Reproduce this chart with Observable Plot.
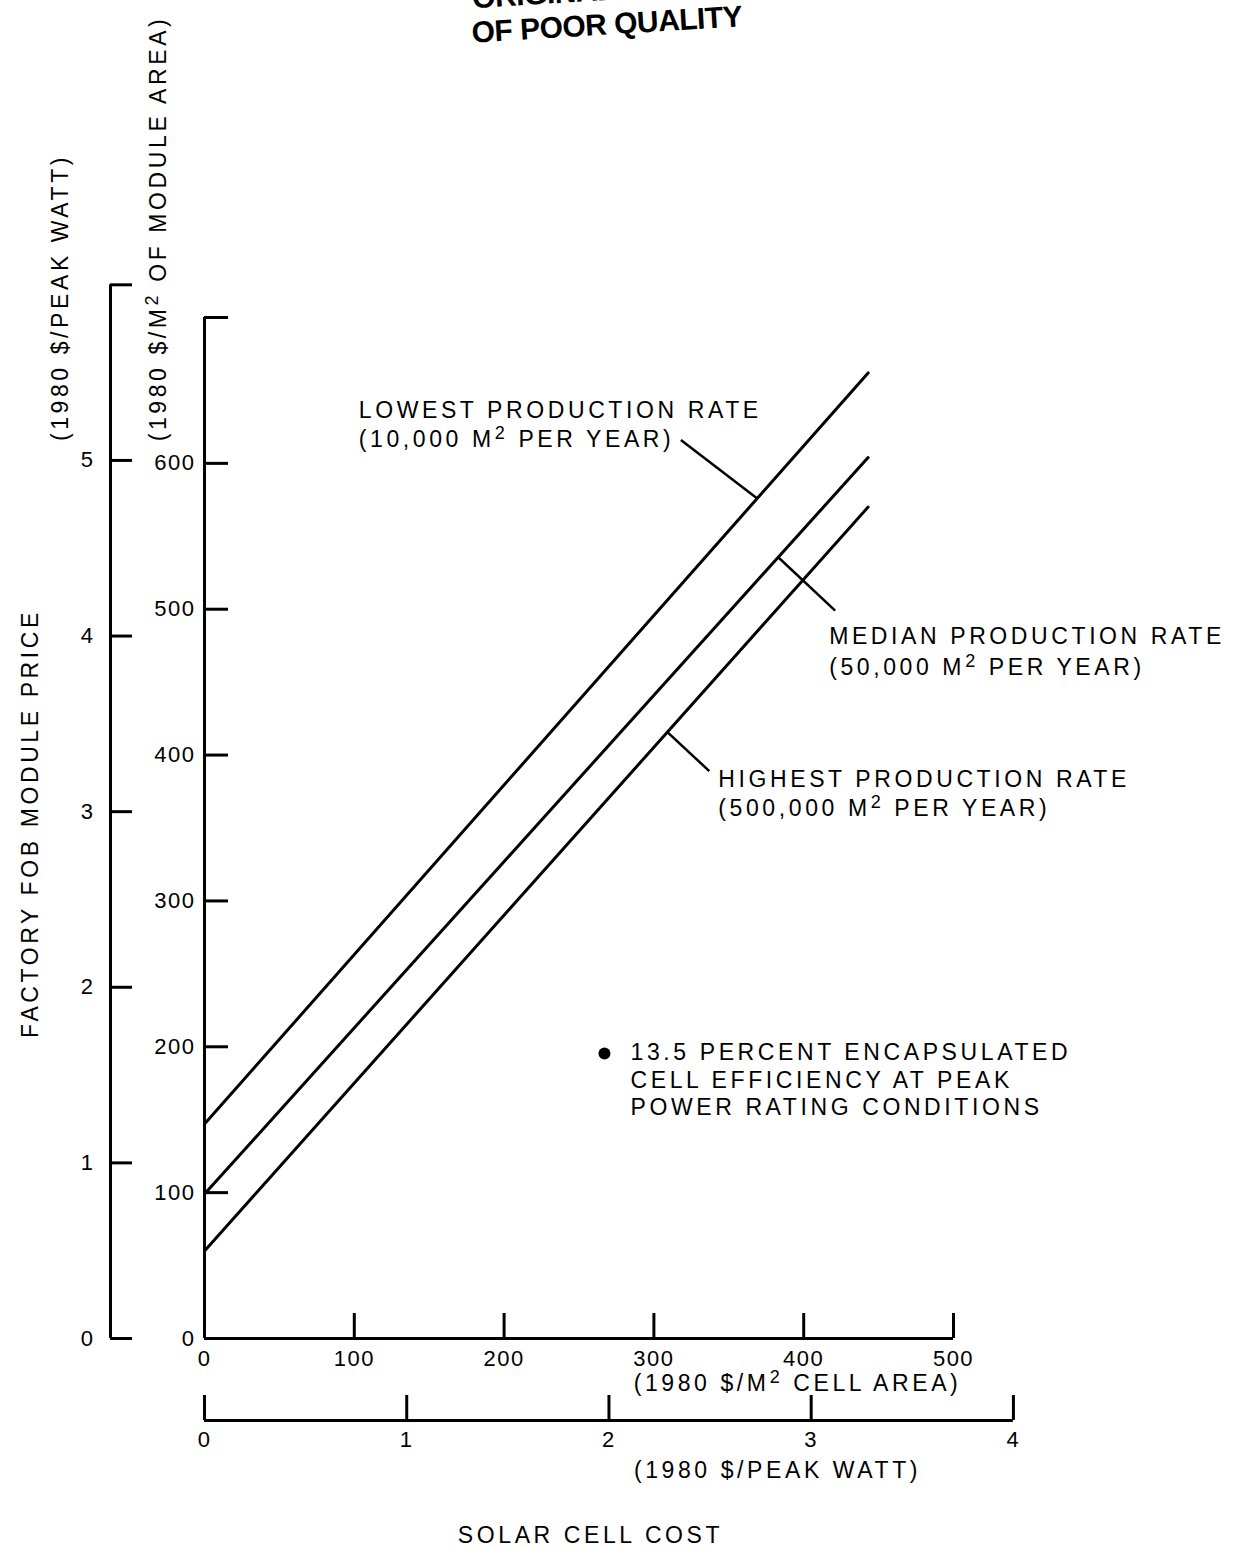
<!DOCTYPE html>
<html>
<head>
<meta charset="utf-8">
<script src="https://cdn.jsdelivr.net/npm/d3@7"></script>
<script src="https://cdn.jsdelivr.net/npm/@observablehq/plot@0.6"></script>
<style>
  html, body { margin: 0; padding: 0; background: #fff; }
  #chart svg text { letter-spacing: 3.6px; }
  #chart svg g[font-size="22"] text { letter-spacing: 1.5px; }
  #chart svg g[font-weight="bold"] text { letter-spacing: -0.5px; }
</style>
</head>
<body>
<div id="chart"></div>
<script>
// ---------------- data ----------------
const seriesNames = ["lowest", "median", "highest"];
const cellCostArea = [0, 443];            // solar cell cost, 1980 $/m² cell area
const lowestPrice  = [147, 662];          // module price, 1980 $/m² module area
const medianPrice  = [99, 604];
const highestPrice = [60, 570];

const cellAreaTicks   = [0, 100, 200, 300, 400, 500];
const cellWattTicks   = [0, 1, 2, 3, 4];
const moduleAreaTicks = [0, 100, 200, 300, 400, 500, 600, 700];
const moduleAreaLabels = [0, 100, 200, 300, 400, 500, 600];
const moduleWattTicks = [0, 1, 2, 3, 4, 5, 6];
const moduleWattLabels = [0, 1, 2, 3, 4, 5];

const cellWattToArea = 135;     // 13.5 % efficiency -> 135 W/m²
const moduleWattToArea = 120.4; // scale ratio of the two module-price axes

const seriesLabels = {
  lowest:  ["LOWEST PRODUCTION RATE", "(10,000 M² PER YEAR)"],
  median:  ["MEDIAN PRODUCTION RATE", "(50,000 M² PER YEAR)"],
  highest: ["HIGHEST PRODUCTION RATE", "(500,000 M² PER YEAR)"]
};
const noteLines = ["13.5 PERCENT ENCAPSULATED", "CELL EFFICIENCY AT PEAK", "POWER RATING CONDITIONS"];
const stampText = "ORIGINAL PAGE IS\nOF POOR QUALITY";
const yTitle = "FACTORY FOB MODULE PRICE";
const yUnitWatt = "(1980 $/PEAK WATT)";
const yUnitArea = "(1980 $/M² OF MODULE AREA)";
const xUnitArea = "(1980 $/M² CELL AREA)";
const xUnitWatt = "(1980 $/PEAK WATT)";
const xTitle = "SOLAR CELL COST";

// ---------------- layout (annotation placement, not data) ----------------
const W = 1236, H = 1549;
const xRange = [204, 953], yRange = [1338, 317];
const pxX = 500 / (xRange[1] - xRange[0]);
const pxY = 700 / (yRange[0] - yRange[1]);
const midX = (xRange[0] + xRange[1]) / 2, midY = (yRange[0] + yRange[1]) / 2;
const labelPos = {
  lowest:  {x: 103, y: [636, 616]},
  median:  {x: 417, y: [481, 460]},
  highest: {x: 343, y: [383, 363]}
};
const leaderPos = {
  lowest:  {onX: 369, toX: 318, toY: 616},
  median:  {onX: 383, toX: 421, toY: 499},
  highest: {onX: 309, toX: 337, toY: 389}
};
const notePos = {dotX: 267, dotY: 195.4, x: 284.4, y: [196, 177, 158]};

// ---------------- build ----------------
const prices = {lowest: lowestPrice, median: medianPrice, highest: highestPrice};
const lineData = seriesNames.flatMap(s => cellCostArea.map((x, j) => ({series: s, x, y: prices[s][j]})));
const priceAt = (s, x) => {
  const [x0, x1] = cellCostArea, [y0, y1] = prices[s];
  return y0 + (y1 - y0) * (x - x0) / (x1 - x0);
};
const labelData = seriesNames.flatMap(s => seriesLabels[s].map((t, i) => ({text: t, x: labelPos[s].x, y: labelPos[s].y[i]})));
const leaderData = seriesNames.map(s => ({
  x1: leaderPos[s].onX, y1: priceAt(s, leaderPos[s].onX), x2: leaderPos[s].toX, y2: leaderPos[s].toY
}));
const noteData = noteLines.map((t, i) => ({text: t, y: notePos.y[i]}));

const SW = 3;
const outerDx = 110 - xRange[0];
const T = {textAnchor: "middle", lineAnchor: "middle", fontSize: 23};
const chart = Plot.plot({
  width: W, height: H,
  marginLeft: xRange[0], marginRight: W - xRange[1], marginTop: yRange[1], marginBottom: H - yRange[0],
  style: {fontFamily: "'Liberation Sans', Arial, sans-serif", background: "#fff", color: "#000", overflow: "visible"},
  x: {domain: [0, 500], range: xRange, axis: null},
  y: {domain: [0, 700], range: yRange, axis: null},
  marks: [
    // inner module-area axis
    Plot.ruleX([0], {y1: 0, y2: 700, strokeWidth: SW}),
    Plot.ruleY(moduleAreaTicks, {y: d => d, x1: 0, x2: 24 * pxX, strokeWidth: SW}),
    Plot.text(moduleAreaLabels, {x: 0, y: d => d, text: d => `${d}`, textAnchor: "end", lineAnchor: "middle", dx: -9, fontSize: 22}),
    // outer module-watt axis
    Plot.ruleX([0], {y1: 0, y2: 6 * moduleWattToArea, strokeWidth: SW, dx: outerDx}),
    Plot.ruleY(moduleWattTicks, {y: d => d * moduleWattToArea, x1: 0, x2: 22 * pxX, strokeWidth: SW, dx: outerDx}),
    Plot.text(moduleWattLabels, {x: 0, y: d => d * moduleWattToArea, text: d => `${d}`, textAnchor: "end", lineAnchor: "middle", dx: outerDx - 16, fontSize: 22}),
    // cell-area x axis
    Plot.ruleY([0], {x1: 0, x2: 500, strokeWidth: SW}),
    Plot.ruleX(cellAreaTicks, {x: d => d, y1: 0, y2: 25 * pxY, strokeWidth: SW}),
    Plot.text(cellAreaTicks, {x: d => d, y: 0, text: d => `${d}`, lineAnchor: "middle", dy: 20, fontSize: 22}),
    // cell-watt x axis
    Plot.ruleY([0], {x1: 0, x2: 4 * cellWattToArea, strokeWidth: SW, dy: 82}),
    Plot.ruleX(cellWattTicks, {x: d => d * cellWattToArea, y1: 0, y2: 25 * pxY, strokeWidth: SW, dy: 82}),
    Plot.text(cellWattTicks, {x: d => d * cellWattToArea, y: 0, text: d => `${d}`, lineAnchor: "middle", dy: 101, fontSize: 22}),
    // series lines
    Plot.line(lineData, {x: "x", y: "y", z: "series", stroke: "#000", strokeWidth: SW}),
    // leaders and labels
    Plot.link(leaderData, {x1: "x1", y1: "y1", x2: "x2", y2: "y2", stroke: "#000", strokeWidth: 2.5}),
    Plot.text(labelData, {x: "x", y: "y", text: "text", textAnchor: "start", lineAnchor: "middle", fontSize: 23}),
    // note
    Plot.dot([0], {x: notePos.dotX, y: notePos.dotY, r: 6, fill: "#000", stroke: null}),
    Plot.text(noteData, {x: notePos.x, y: "y", text: "text", textAnchor: "start", lineAnchor: "middle", fontSize: 23}),
    // axis titles
    Plot.text([yTitle], {...T, frameAnchor: "left", rotate: -90, dx: 30 - xRange[0], dy: 823 - midY}),
    Plot.text([yUnitWatt], {...T, frameAnchor: "top-left", rotate: -90, dx: 60 - xRange[0], dy: 297 - yRange[1]}),
    Plot.text([yUnitArea], {...T, frameAnchor: "top-left", rotate: -90, dx: 158 - xRange[0], dy: 228 - yRange[1]}),
    Plot.text([xUnitArea], {...T, frameAnchor: "bottom", dx: 797 - midX, dy: 1383 - yRange[0]}),
    Plot.text([xUnitWatt], {...T, frameAnchor: "bottom", dx: 777 - midX, dy: 1470 - yRange[0]}),
    Plot.text([xTitle], {...T, frameAnchor: "bottom", dx: 590 - midX, dy: 1535 - yRange[0]}),
    // stamp
    Plot.text([stampText], {frameAnchor: "top-left", textAnchor: "middle", dx: 607 - xRange[0], dy: 34 - yRange[1], rotate: -3.5,
      fontSize: 30, fontWeight: "bold", lineAnchor: "bottom", lineHeight: 1.15})
  ]
});

// superscript ² -> raised 2
const NS = "http://www.w3.org/2000/svg";
function fixSup(el) {
  for (const child of [...el.childNodes]) {
    if (child.nodeType === 3 && child.nodeValue.includes("²")) {
      const parts = child.nodeValue.split("²");
      const frag = document.createDocumentFragment();
      frag.appendChild(document.createTextNode(parts[0]));
      for (let i = 1; i < parts.length; i++) {
        const sup = document.createElementNS(NS, "tspan");
        sup.setAttribute("dy", "-8"); sup.setAttribute("font-size", "18"); sup.textContent = "2";
        const rest = document.createElementNS(NS, "tspan");
        rest.setAttribute("dy", "8"); rest.textContent = parts[i];
        frag.append(sup, rest);
      }
      el.replaceChild(frag, child);
    } else if (child.nodeType === 1) fixSup(child);
  }
}
chart.querySelectorAll("text").forEach(fixSup);
document.getElementById("chart").appendChild(chart);
</script>
</body>
</html>
